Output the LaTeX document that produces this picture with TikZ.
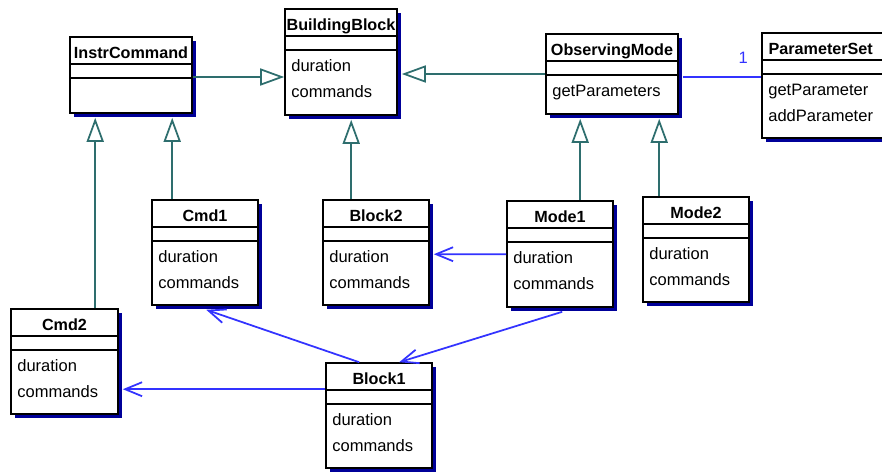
\documentclass[tikz,border=0pt]{standalone}
\usepackage{fontspec}
\setmainfont{Liberation Sans}
\usetikzlibrary{arrows.meta,calc,fit}

\definecolor{genline}{HTML}{2E6E6E}
\definecolor{navline}{HTML}{3333FF}
\definecolor{boxshadow}{HTML}{000099}

\tikzset{
  box/.style={draw=black,line width=0.9pt,fill=white,inner sep=0pt},
  sepline/.style={draw=black,line width=0.8pt},
  title/.style={anchor=base,inner sep=0pt,font=\fontsize{9.2}{11}\selectfont\bfseries},
  attr/.style={anchor=base west,inner sep=0pt,font=\fontsize{9.4}{11}\selectfont},
  gen/.style={genline,line width=1pt,-{Triangle[open,length=0.48cm,width=0.34cm]}},
  nav/.style={navline,line width=1pt,-{Straight Barb[length=0.34cm,width=0.28cm]}},
  assoc/.style={navline,line width=1pt}
}

% name, left, top, right, bottom, title, first line, second line
\newcommand{\umlclass}[8]{
  \fill[boxshadow] ({#2+4},{#3+4}) rectangle ({#4+4},{#5+4});
  \node[box,fit={(#2,#3) (#4,#5)}] (#1) {};
  \draw[sepline] (#2,{#3+27}) -- (#4,{#3+27});
  \draw[sepline] (#2,{#3+41}) -- (#4,{#3+41});
  \node[title] (#1-t) at ({(#2+#4)/2},{#3+21.5}) {#6};
  \node[attr] (#1-a) at ({#2+6},{#3+62.5}) {#7};
  \node[attr] (#1-b) at ({#2+6},{#3+88.5}) {#8};
}

\begin{document}
\begin{tikzpicture}[x=0.02cm,y=-0.02cm]
  \clip (0,0) rectangle (882,471);
  \fill[white] (0,0) rectangle (882,471);

  % classes
  \umlclass{InstrCommand}{70}{37}{192}{113}{InstrCommand}{}{}
  \umlclass{BuildingBlock}{285}{9}{397}{115}{BuildingBlock}{duration}{commands}
  \umlclass{ObservingMode}{546}{34}{678}{114}{ObservingMode}{getParameters}{}
  \umlclass{ParameterSet}{762}{33}{890}{138}{\hspace*{-6pt}ParameterSet}{getParameter}{addParameter}
  \umlclass{Cmd1}{152}{200}{258}{305}{Cmd1}{duration}{commands}
  \umlclass{Block2}{323}{200}{429}{305}{Block2}{duration}{commands}
  \umlclass{Mode1}{507}{201}{613}{307}{Mode1}{duration}{commands}
  \umlclass{Mode2}{643}{197}{749}{302}{Mode2}{duration}{commands}
  \umlclass{Cmd2}{11}{309}{118}{414}{Cmd2}{duration}{commands}
  \umlclass{Block1}{326}{363}{432}{468}{Block1}{duration}{commands}

  % generalizations
  \draw[gen] ($(InstrCommand.east)+(0,2)$) -- ($(InstrCommand.east -| BuildingBlock.west)+(0,2)$);
  \draw[gen] (ObservingMode.west) -- ($(ObservingMode.west -| BuildingBlock.east)+(4,0)$);
  \draw[gen] ($(Cmd1.north west)+(21,0)$) -- ($(InstrCommand.south west)+(103,4)$);
  \draw[gen] ($(Cmd2.north west)+(85,0)$) -- ($(InstrCommand.south west)+(26,4)$);
  \draw[gen] ($(Block2.north west)+(29,0)$) -- ($(BuildingBlock.south west)+(67,4)$);
  \draw[gen] ($(Mode1.north west)+(74,0)$) -- ($(ObservingMode.south west)+(35,4)$);
  \draw[gen] ($(Mode2.north west)+(17,0)$) -- ($(ObservingMode.south west)+(114,4)$);

  % associations
  \draw[assoc] ($(ObservingMode.east)+(4,3)$) -- ($(ObservingMode.east -| ParameterSet.west)+(0,3)$)
    node[pos=0.77,above=4pt,font=\fontsize{9.4}{11}\selectfont,navline] (one) {1};
  \draw[nav] ($(Mode1.north west)+(0,54)$) -- ($(Block2.north east)+(4,55)$);
  \draw[nav] ($(Block1.north west)+(0,27)$) -- ($(Cmd2.north east)+(4,81)$);
  \draw[nav] ($(Block1.north west)+(34,0)$) -- ($(Cmd1.south west)+(55,4)$);
  \draw[nav] ($(Mode1.south west)+(56,4)$) -- ($(Block1.north west)+(74,0)$);
\end{tikzpicture}
\end{document}
